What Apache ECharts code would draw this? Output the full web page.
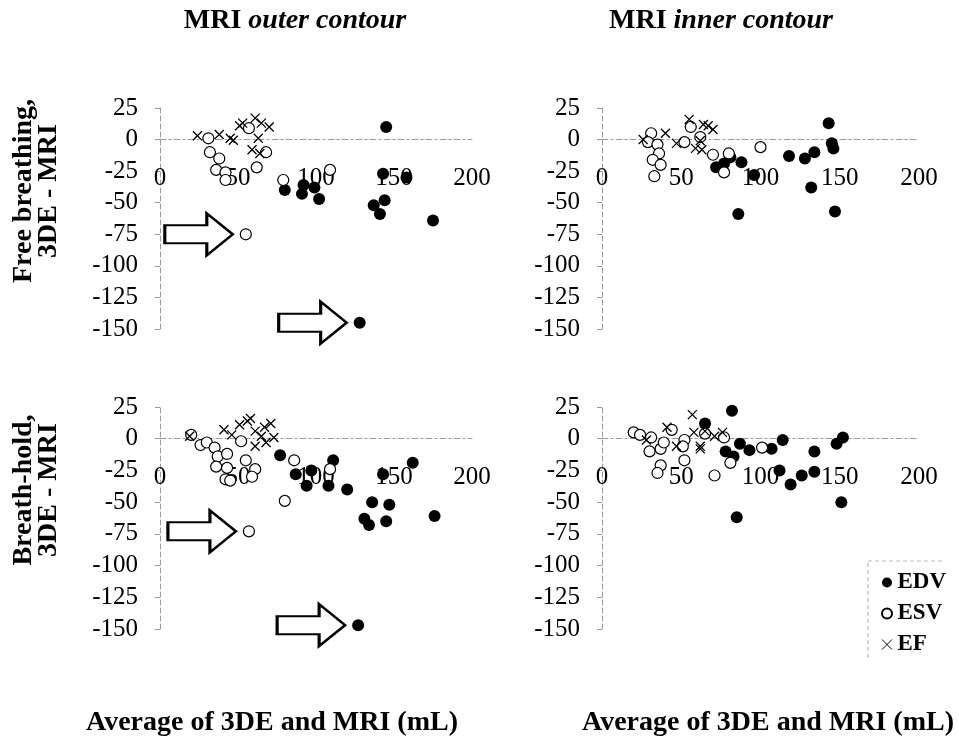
<!DOCTYPE html>
<html>
<head>
<meta charset="utf-8">
<script src="https://cdn.jsdelivr.net/npm/echarts@6/dist/echarts.min.js"></script>
<style>
html,body{margin:0;padding:0;background:#fff;}
#chart{width:959px;height:742px;}
</style>
</head>
<body>
<div id="chart"></div>
<script>
// ---- Data: [average of 3DE and MRI (mL), 3DE - MRI] ----
// Free breathing, MRI outer contour
var fbOuterEDV = [[145,10],[143,-27],[80,-40],[92,-36],[91,-43],[99,-38],[102,-47],[144,-48],[137,-52],[141,-59],[158,-30],[175,-64],[128,-145]];
var fbOuterESV = [[31,1],[32,-10],[38,-15],[36,-24],[42,-26],[42,-32],[57,9],[68,-10],[62,-22],[79,-32],[109,-24],[55,-75]];
var fbOuterEF  = [[24,3],[38,4],[45,1],[47,-0.5],[51,11],[53,13],[61,17],[65,13],[70,10],[63,1],[59,-8],[64,-11]];
// Free breathing, MRI inner contour
var fbInnerEDV = [[143,13],[145,-3],[146,-7],[118,-13],[128,-15],[134,-10],[132,-38],[147,-57],[88,-18],[81,-14],[72,-22],[77,-19],[96,-28],[86,-59]];
var fbInnerESV = [[31,5],[29,-2],[35,-4],[36,-11],[32,-16],[37,-20],[33,-29],[52,-2],[56,10],[62,2],[70,-12],[80,-11],[77,-26],[100,-6]];
var fbInnerEF  = [[26,0],[40,5],[47,-3],[55,16],[64,12],[67,11],[70,8],[59,-7],[63,-8],[62,-1]];
// Breath-hold, MRI outer contour
var bhOuterEDV = [[77,-13],[87,-28],[97,-25],[94,-37],[111,-17],[108,-37],[120,-40],[143,-28],[162,-19],[136,-50],[147,-52],[131,-63],[134,-68],[145,-65],[176,-61],[127,-147]];
var bhOuterESV = [[20,3],[26,-5],[30,-3],[35,-7],[37,-14],[43,-12],[36,-22],[43,-23],[42,-32],[45,-33],[52,-2],[55,-17],[61,-24],[59,-30],[86,-17],[109,-24],[80,-49],[57,-73]];
var bhOuterEF  = [[19,2],[41,7],[46,3],[51,11],[56,14],[58,16],[61,6],[65,2],[67,9],[71,12],[73,1],[61,-6],[68,-3]];
// Breath-hold, MRI inner contour
var bhInnerEDV = [[82,22],[65,12],[87,-4],[93,-9],[78,-10],[83,-14],[107,-8],[114,-1],[112,-25],[119,-36],[126,-29],[134,-26],[134,-10],[148,-4],[152,1],[151,-50],[85,-62]];
var bhInnerESV = [[20,5],[24,3],[31,1],[30,-10],[37,-8],[39,-3],[37,-21],[35,-27],[44,7],[52,-1],[51,-6],[52,-17],[71,-29],[77,1],[81,-19],[101,-7],[65,4]];
var bhInnerEF  = [[28,-1],[41,9],[47,-6],[57,19],[58,5],[62,-6],[65,6],[71,2],[76,5],[62,-8]];

// Outliers marked with arrows
var arrowTargets = {
  fbOuterESV: [55,-75], fbOuterEDV: [128,-145],
  bhOuterESV: [57,-73], bhOuterEDV: [127,-147]
};

var xRange = [0, 200, 50];
var yRange = [-150, 25, 25];
var columnTitles = ['outer contour', 'inner contour'];
var rowTitles = ['Free breathing,\n3DE - MRI', 'Breath-hold,\n3DE - MRI'];
var xTitle = 'Average of 3DE and MRI (mL)';

var FONT = '"Liberation Serif", "Times New Roman", serif';
var crossPath = 'path://M0,0L10,10M10,0L0,10';
var arrowPath = 'path://M0,12L42,12L42,0L68,21L42,42L42,30L0,30Z';

var chart = echarts.init(document.getElementById('chart'));

var grids = [
  {left:160, top:108, width:312, height:221},
  {left:602, top:108, width:317, height:221},
  {left:160, top:407, width:312, height:222},
  {left:602, top:407, width:317, height:222}
];

var xAxes = [], yAxes = [];
for (var i = 0; i < 4; i++) {
  // place the x axis (line + labels) at y = 0
  var zeroOffset = -grids[i].height * (0 - yRange[0]) / (yRange[1] - yRange[0]);
  xAxes.push({
    gridIndex: i, type: 'value', min: xRange[0], max: xRange[1], interval: xRange[2],
    position: 'bottom', offset: zeroOffset,
    axisLine: {onZero: false, lineStyle: {color: '#9a9a9a', width: 1, type: [6,3,2,3]}},
    axisTick: {show: false},
    splitLine: {show: false},
    axisLabel: {margin: 26, color: '#000', fontFamily: FONT, fontSize: 25}
  });
  yAxes.push({
    gridIndex: i, type: 'value', min: yRange[0], max: yRange[1], interval: yRange[2],
    axisLine: {show: true, onZero: false, lineStyle: {color: '#9a9a9a', width: 1, type: [5,3]}},
    axisTick: {show: true, length: 5, lineStyle: {color: '#9a9a9a'}},
    splitLine: {show: false},
    axisLabel: {margin: 22, color: '#000', fontFamily: FONT, fontSize: 25}
  });
}

function arrowMark(pt) {
  return {
    symbol: arrowPath,
    symbolSize: [68, 42],
    symbolOffset: [-47, 0],
    itemStyle: {color: '#fff', borderColor: '#000', borderWidth: 2.5},
    label: {show: false},
    silent: true,
    data: [{coord: pt}]
  };
}

function makeSeries(idx, edv, esv, ef, markEDV, markESV) {
  var s = [];
  s.push({
    name: 'EDV', type: 'scatter', xAxisIndex: idx, yAxisIndex: idx,
    data: edv, symbol: 'circle', symbolSize: 12,
    itemStyle: {color: '#000', opacity: 1},
    markPoint: markEDV ? arrowMark(markEDV) : undefined
  });
  s.push({
    name: 'ESV', type: 'scatter', xAxisIndex: idx, yAxisIndex: idx,
    data: esv, symbol: 'circle', symbolSize: 11,
    itemStyle: {color: '#fff', borderColor: '#000', borderWidth: 1.2, opacity: 1},
    markPoint: markESV ? arrowMark(markESV) : undefined
  });
  s.push({
    name: 'EF', type: 'scatter', xAxisIndex: idx, yAxisIndex: idx,
    data: ef, symbol: crossPath, symbolSize: 9,
    itemStyle: {color: 'rgba(0,0,0,0)', borderColor: '#000', borderWidth: 1.3, opacity: 1}
  });
  return s;
}

var series = [].concat(
  makeSeries(0, fbOuterEDV, fbOuterESV, fbOuterEF, arrowTargets.fbOuterEDV, arrowTargets.fbOuterESV),
  makeSeries(1, fbInnerEDV, fbInnerESV, fbInnerEF),
  makeSeries(2, bhOuterEDV, bhOuterESV, bhOuterEF, arrowTargets.bhOuterEDV, arrowTargets.bhOuterESV),
  makeSeries(3, bhInnerEDV, bhInnerESV, bhInnerEF)
);

function colTitle(text, x) {
  return {
    type: 'text', x: x, y: 21, silent: true,
    style: {
      text: '{a|MRI }{b|' + text + '}',
      align: 'center', verticalAlign: 'middle',
      rich: {
        a: {fontFamily: FONT, fontSize: 28, fontWeight: 'bold', fill: '#000'},
        b: {fontFamily: FONT, fontSize: 28, fontWeight: 'bold', fontStyle: 'italic', fill: '#000'}
      }
    }
  };
}
function rowTitle(text, y) {
  return {
    type: 'text', x: 36, y: y, rotation: Math.PI / 2, silent: true,
    style: {
      text: text, align: 'center', verticalAlign: 'middle',
      fontFamily: FONT, fontSize: 28, fontWeight: 'bold', lineHeight: 25, fill: '#000'
    }
  };
}
function axTitle(x) {
  return {
    type: 'text', x: x, y: 723, silent: true,
    style: {
      text: xTitle, align: 'center', verticalAlign: 'middle',
      fontFamily: FONT, fontSize: 28, fontWeight: 'bold', fill: '#000'
    }
  };
}

chart.setOption({
  animation: false,
  backgroundColor: '#fff',
  grid: grids,
  xAxis: xAxes,
  yAxis: yAxes,
  legend: {
    orient: 'vertical', left: 876, top: 566, itemGap: 8,
    itemWidth: 11, itemHeight: 10,
    textStyle: {fontFamily: FONT, fontSize: 23, fontWeight: 'bold', color: '#000'},
    data: [
      {name: 'EDV', icon: 'circle'},
      {name: 'ESV', icon: 'circle'},
      {name: 'EF', icon: crossPath, itemStyle: {color: 'rgba(0,0,0,0)', borderColor: '#000', borderWidth: 1}}
    ],
    selectedMode: false
  },
  graphic: [
    colTitle(columnTitles[0], 295),
    colTitle(columnTitles[1], 721),
    rowTitle(rowTitles[0], 191),
    rowTitle(rowTitles[1], 490),
    axTitle(272),
    axTitle(768),
    {type: 'line', silent: true, shape: {x1: 868, y1: 563, x2: 868, y2: 660},
     style: {stroke: '#aaa', lineWidth: 1, lineDash: [4,3]}},
    {type: 'line', silent: true, shape: {x1: 868, y1: 561, x2: 945, y2: 561},
     style: {stroke: '#bbb', lineWidth: 1, lineDash: [4,3]}}
  ],
  series: series
});
</script>
</body>
</html>
